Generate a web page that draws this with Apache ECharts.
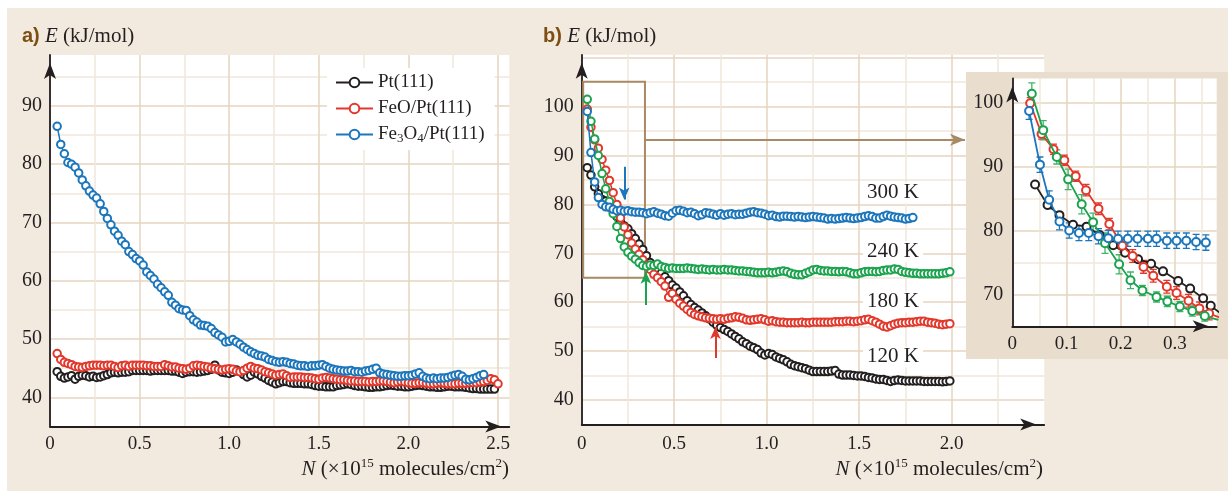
<!DOCTYPE html>
<html><head><meta charset="utf-8">
<script src="https://cdn.jsdelivr.net/npm/echarts@6/dist/echarts.min.js"></script>
<style>
html,body{margin:0;padding:0;background:#fff;overflow:hidden;}
#bg{position:absolute;left:7px;top:8px;width:1221px;height:483px;background:#f2eadf;}
#chart{position:absolute;left:0;top:0;width:1228px;height:491px;}
</style></head><body>
<div id="bg"></div><div id="chart"></div>
<script>
// ---------- Panel a data ----------
const nA = [0.04,0.06,0.08,0.10,0.12,0.14,0.16,0.18,0.20,0.22,
0.24,0.26,0.28,0.30,0.32,0.34,0.36,0.38,0.40,0.42,
0.44,0.46,0.48,0.50,0.52,0.54,0.56,0.58,0.60,0.62,
0.64,0.66,0.68,0.70,0.72,0.74,0.76,0.78,0.80,0.82,
0.84,0.86,0.88,0.90,0.92,0.94,0.96,0.98,1.00,1.02,
1.04,1.06,1.08,1.10,1.12,1.14,1.16,1.18,1.20,1.22,
1.24,1.26,1.28,1.30,1.32,1.34,1.36,1.38,1.40,1.42,
1.44,1.46,1.48,1.50,1.52,1.54,1.56,1.58,1.60,1.62,
1.64,1.66,1.68,1.70,1.72,1.74,1.76,1.78,1.80,1.82,
1.84,1.86,1.88,1.90,1.92,1.94,1.96,1.98,2.00,2.02,
2.04,2.06,2.08,2.10,2.12,2.14,2.16,2.18,2.20,2.22,
2.24,2.26,2.28,2.30,2.32,2.34,2.36,2.38,2.40,2.42,
2.44,2.46,2.48,2.50];
const ptA = [44.4,43.6,43.3,43.5,43.7,43.1,43.6,43.8,43.7,43.5,
43.6,43.4,43.5,43.7,43.9,44.2,44.3,44.2,44.3,44.3,
44.4,44.6,44.6,44.6,44.6,44.6,44.5,44.6,44.6,44.6,
44.6,44.6,44.5,44.5,44.3,44.1,44.3,44.4,44.4,44.3,
44.4,44.5,44.6,44.8,45.5,44.7,44.3,44.2,44.1,44.3,
44.7,44.4,43.9,43.5,43.8,44.3,44.0,43.6,43.3,42.9,
42.6,42.3,42.5,42.7,42.7,42.5,42.4,42.4,42.4,42.3,
42.3,42.2,42.0,41.9,41.9,41.8,41.8,41.8,42.0,42.1,
42.2,42.3,42.2,42.0,41.9,41.9,41.8,41.7,41.7,41.8,
41.8,41.9,42.0,42.1,42.0,41.9,41.9,41.8,41.8,41.9,
42.0,42.1,42.0,41.9,41.8,41.8,41.7,41.7,41.8,41.9,
41.9,41.8,41.8,41.8,41.7,41.6,41.5,41.5,41.4,41.4,
41.4,41.4,41.4];
const feoA = [47.5,46.5,46.0,45.8,45.6,45.3,45.2,45.1,45.3,45.4,
45.5,45.5,45.5,45.4,45.5,45.5,45.3,45.1,45.4,45.5,
45.3,45.5,45.5,45.5,45.5,45.4,45.4,45.3,45.3,45.3,
45.6,45.4,45.2,45.2,45.0,44.9,44.8,45.0,45.4,45.5,
45.4,45.3,45.2,45.0,44.9,44.8,44.7,44.8,44.9,44.8,
44.5,44.4,44.6,45.0,45.3,45.0,44.9,44.7,44.4,44.2,
44.0,43.8,43.9,44.0,43.7,43.4,43.5,43.5,43.5,43.4,
43.4,43.3,43.2,43.1,43.3,43.4,43.3,43.2,43.1,43.0,
43.0,42.9,42.8,42.8,42.7,42.7,42.7,42.6,42.7,42.7,
42.8,42.8,42.7,42.6,42.5,42.6,42.7,42.6,42.5,42.4,
42.4,42.5,42.5,42.4,42.3,42.3,42.4,42.5,42.4,42.3,
42.3,42.3,42.4,42.4,42.4,42.5,42.5,42.5,42.6,42.7,
42.9,43.2,43.0,42.3];
const fe3o4A = [86.5,83.4,81.8,80.3,80.0,79.5,78.5,77.3,76.3,75.4,
74.7,74.2,73.2,71.9,70.7,69.6,68.5,67.8,66.8,66.2,
65.0,64.5,63.8,63.4,62.7,61.5,60.9,60.3,59.4,58.8,
58.1,57.5,56.3,55.8,55.2,55.0,54.9,54.0,53.3,52.9,
52.4,52.3,52.2,51.8,51.1,50.7,50.3,49.5,49.6,49.9,
49.5,49.1,48.6,48.2,47.8,47.5,47.2,47.1,46.9,46.5,
46.3,46.1,46.0,46.1,46.0,45.8,45.7,45.5,45.4,45.4,
45.3,45.4,45.4,45.5,45.6,45.3,45.0,44.8,44.7,44.6,
44.5,44.5,44.6,44.4,44.4,44.3,44.5,44.6,44.8,45.0,
44.2,44.0,43.9,43.8,43.7,43.6,43.6,43.7,43.7,43.8,
44.0,44.2,43.6,43.3,43.2,43.3,43.2,43.3,43.3,43.4,
43.6,43.8,43.9,43.6,43.1,43.0,43.2,43.4,43.7,43.9];

// ---------- Panel b data ----------
const nB = [0.03,0.05,0.07,0.09,0.11,0.13,0.15,0.17,0.19,0.21,
0.23,0.25,0.27,0.29,0.31,0.33,0.35,0.37,0.39,0.41,
0.43,0.45,0.47,0.49,0.51,0.53,0.55,0.57,0.59,0.61,
0.63,0.65,0.67,0.69,0.71,0.73,0.75,0.77,0.79,0.81,
0.83,0.85,0.87,0.89,0.91,0.93,0.95,0.97,0.99,1.01,
1.03,1.05,1.07,1.09,1.11,1.13,1.15,1.17,1.19,1.21,
1.23,1.25,1.27,1.29,1.31,1.33,1.35,1.37,1.39,1.41,
1.43,1.45,1.47,1.49,1.51,1.53,1.55,1.57,1.59,1.61,
1.63,1.65,1.67,1.69,1.71,1.73,1.75,1.77,1.79,1.81,
1.83,1.85,1.87,1.89,1.91,1.93,1.95,1.97,1.99];
const k120 = [87.5,86.0,83.6,82.2,81.0,80.7,80.0,78.7,77.5,76.4,
75.6,75.0,74.0,73.0,71.9,70.8,69.5,68.1,67.4,66.7,
65.9,65.2,64.4,63.5,62.9,62.1,61.3,60.3,59.5,58.9,
58.4,57.8,57.2,56.6,55.9,55.3,54.8,54.4,54.0,53.5,
53.0,52.5,51.9,51.5,51.0,50.7,50.3,49.6,49.2,49.5,
49.3,48.8,48.5,48.2,47.8,47.3,47.0,46.8,46.6,46.4,
46.1,45.8,45.8,45.8,45.8,45.8,45.9,46.0,45.3,45.1,
45.1,45.1,45.0,44.9,44.9,44.8,44.6,44.5,44.3,44.2,
44.2,44.0,43.8,44.0,44.1,44.0,43.9,43.9,43.9,43.9,
43.9,43.8,43.8,43.8,43.8,43.8,43.7,43.8,43.9];
const k180 = [99.5,95.8,93.2,91.5,89.2,87.0,84.9,82.4,80.0,77.2,
75.4,73.8,72.1,70.9,69.8,68.7,67.6,66.7,65.7,65.0,
64.2,63.3,61.0,61.8,60.6,59.8,59.2,58.5,57.9,57.5,
57.2,57.0,56.8,56.7,56.6,56.5,56.6,56.5,56.7,56.8,
57.0,56.9,56.7,56.4,56.3,56.4,56.5,56.6,56.4,56.1,
56.2,56.0,55.9,55.9,55.8,55.8,55.8,55.8,55.9,55.8,
55.8,55.9,55.9,55.9,55.9,55.9,55.9,56.0,56.0,56.0,
56.1,56.1,56.0,56.1,56.2,56.4,56.5,56.2,55.9,55.5,
55.1,54.9,55.2,55.5,55.7,55.8,55.8,55.9,55.9,56.0,
56.1,56.1,55.9,55.8,55.7,55.5,55.4,55.5,55.6];
const k240 = [101.5,97.0,93.4,90.0,86.3,83.2,80.6,78.1,75.5,73.0,
71.3,70.2,69.4,68.8,68.1,67.5,67.3,67.6,67.5,67.8,
67.3,67.1,66.9,67.0,66.9,66.9,66.9,67.0,66.9,66.8,
66.7,66.8,66.7,66.6,66.7,66.6,66.6,66.7,66.6,66.6,
66.5,66.4,66.4,66.3,66.2,66.1,66.0,66.0,66.0,66.1,
66.0,66.1,66.3,66.4,66.2,65.9,65.7,65.6,65.6,65.9,
66.2,66.6,66.7,66.5,66.4,66.4,66.3,66.3,66.2,66.3,
66.2,66.0,65.8,65.8,66.0,66.2,66.3,66.3,66.2,66.3,
66.5,66.6,66.6,66.8,66.7,66.3,66.1,66.0,65.9,65.9,
65.8,65.8,65.8,65.8,65.8,65.8,65.9,66.0,66.2];
const k300 = [99.0,90.6,84.6,81.4,80.0,79.5,79.4,79.0,78.7,78.8,
78.6,78.7,78.5,78.4,78.4,78.3,78.1,78.3,78.5,78.2,
78.0,77.7,77.6,78.2,78.7,78.8,78.6,78.3,78.4,78.1,
77.7,77.9,78.3,78.2,78.0,77.8,78.1,77.8,78.0,78.1,
77.9,78.0,78.0,78.2,78.4,78.5,78.3,78.2,78.0,77.7,
77.8,77.5,77.4,77.6,77.6,77.5,77.4,77.5,77.4,77.3,
77.4,77.5,77.4,77.3,77.2,77.0,77.1,77.0,77.1,77.2,
77.3,77.2,77.1,77.2,77.3,77.5,77.7,77.5,77.2,77.2,
77.5,77.8,77.6,77.4,77.3,77.2,77.0,77.1,77.3];
const tempNames = ['120 K','180 K','240 K','300 K'];
const tempLabelAt = [[1.683,48.8],[1.683,60.05],[1.683,70.3],[1.683,82.35]];
// arrows: [x, yTail, yHead]
const arrow300 = [0.23, 87.7, 81.0];
const arrow240 = [0.347, 59.4, 66.2];
const arrow180 = [0.723, 48.6, 54.9];
const zoomBox = [[0.008,105.1],[0.342,65.0]];
const zoomArrow = [[0.342,93.2],[2.072,93.2]];

// ---------- Inset data ----------
const insN300 = [0.031,0.051,0.068,0.087,0.105,0.123,0.141,0.159,0.177,0.195,0.213,0.231,0.250,0.266,0.285,0.303,0.321,0.339,0.357];
const insE300 = [98.7,90.3,84.8,81.4,80.0,79.6,79.6,79.1,78.8,78.7,78.7,78.7,78.7,78.7,78.4,78.4,78.4,78.2,78.1];
const insErr300 = [1.3,1.2,1.4,1.3,1.2,1.2,1.2,1.2,1.2,1.2,1.2,1.2,1.2,1.2,1.2,1.2,1.2,1.2,1.2];
const insN180 = [0.033,0.054,0.076,0.096,0.117,0.136,0.159,0.179,0.203,0.222,0.242,0.260,0.285,0.303,0.325,0.345,0.363,0.385];
const insE180 = [99.9,95.1,92.7,91.0,88.5,86.3,83.4,81.0,77.6,76.0,74.3,72.9,71.2,70.2,69.0,67.8,67.0,66.3];
const insErr180 = [0.9,0.8,0.8,0.8,0.8,0.9,0.9,0.9,1.0,1.0,1.0,1.0,1.0,1.0,1.0,1.0,1.0];
const insN240 = [0.036,0.057,0.082,0.103,0.128,0.149,0.171,0.197,0.218,0.240,0.266,0.286,0.309,0.332,0.355,0.380];
const insE240 = [101.4,95.7,91.5,88.0,84.1,81.3,78.0,74.7,72.2,70.6,69.6,68.9,68.1,67.4,66.6,66.0];
const insErr240 = [1.7,1.5,1.1,1.6,1.5,1.4,1.6,1.5,1.3,0.8,0.8,0.8,0.8,0.8,0.8];
const insN120 = [0.042,0.065,0.087,0.112,0.137,0.161,0.186,0.208,0.232,0.256,0.278,0.306,0.328,0.352,0.366,0.388];
const insE120 = [87.2,84.0,82.4,80.9,80.6,79.3,77.7,76.5,75.5,74.8,73.6,72.1,70.9,69.4,68.2,66.8];

// ---------- tick labels ----------
const xTicksA = [0,0.5,1.0,1.5,2.0,2.5];
const xTicksB = [0,0.5,1.0,1.5,2.0];
const xTicksI = [0,0.1,0.2,0.3];
const yTicksA = [40,50,60,70,80,90];
const yTicksB = [40,50,60,70,80,90,100];
const yTicksI = [70,80,90,100];

const SERIF = "'Liberation Serif','Times New Roman',serif";
const SANS = "'Liberation Sans','Open Sans',sans-serif";
const TXT = '#231f20';
const MAJ = '#e6d5bf', MIN = '#f1e7da';
const C_BLACK = '#231f20', C_RED = '#e2382b', C_BLUE = '#1c76bc', C_GREEN = '#1ba34e';
const BROWN = '#a88b64';

function zip(xs, ys) { return ys.map((y, i) => [xs[i], y]); }
function zip3(xs, ys, es) { return es.map((e, i) => [xs[i], ys[i], e]); }
function tickFmt(ticks, digits) {
  return function (v) {
    for (const t of ticks) if (Math.abs(v - t) < 1e-6) return t === 0 ? '0' : t.toFixed(digits);
    return '';
  };
}
function axisCfg(dim, gi, min, max, step, ticks, digits, margin, colors, z) {
  return {
    type: 'value', gridIndex: gi, min: min, max: max, interval: step,
    position: dim === 'x' ? 'bottom' : 'left', z: z || 0,
    axisLine: { show: true, onZero: false, lineStyle: { color: TXT, width: 1.8 },
      symbol: ['none', 'arrow'], symbolSize: [9, 16], symbolOffset: [0, -8] },
    axisTick: { show: false },
    axisLabel: { margin: margin, color: TXT, fontFamily: SERIF, fontSize: dim === 'x' ? 19 : 20, formatter: tickFmt(ticks, digits) },
    splitLine: { show: true, showMaxLine: false, lineStyle: { color: colors, width: 1.5 } }
  };
}
function lineSeries(name, gi, data, color, size, z, extra) {
  return Object.assign({
    type: 'line', name: name, xAxisIndex: gi, yAxisIndex: gi, data: data,
    symbol: 'emptyCircle', symbolSize: size, showSymbol: true,
    lineStyle: { color: color, width: 1.5 },
    itemStyle: { color: color, borderColor: color, borderWidth: 1.5 },
    emphasis: { disabled: true }, z: z, clip: true, animation: false
  }, extra || {});
}
function tempLabel(i) {
  return { silent: true, symbol: 'rect', symbolSize: 1, itemStyle: { color: 'rgba(0,0,0,0)' },
    label: { show: true, position: 'inside', formatter: '{b}', color: TXT, fontFamily: SERIF, fontSize: 21,
      backgroundColor: '#fff', padding: [0, 4] },
    data: [{ name: tempNames[i], coord: tempLabelAt[i] }] };
}
function arrowLine(a, color) {
  return { silent: true, symbol: ['none', 'arrow'], symbolSize: [8, 12], label: { show: false },
    lineStyle: { color: color, width: 2, type: 'solid' }, emphasis: { disabled: true },
    data: [[{ coord: [a[0], a[1]] }, { coord: [a[0], a[2]] }]] };
}
function errRender(color) {
  return function (params, api) {
    const x = api.value(0), y = api.value(1), e = api.value(2);
    const p1 = api.coord([x, y + e]), p2 = api.coord([x, y - e]);
    const w = 3.5;
    const st = { stroke: color, lineWidth: 1.3 };
    return { type: 'group', children: [
      { type: 'line', shape: { x1: p1[0], y1: p1[1], x2: p2[0], y2: p2[1] }, style: st },
      { type: 'line', shape: { x1: p1[0] - w, y1: p1[1], x2: p1[0] + w, y2: p1[1] }, style: st },
      { type: 'line', shape: { x1: p2[0] - w, y1: p2[1], x2: p2[0] + w, y2: p2[1] }, style: st }
    ] };
  };
}
function errSeries(xs, ys, es, color) {
  return { type: 'custom', xAxisIndex: 2, yAxisIndex: 2, data: zip3(xs, ys, es),
    encode: { x: 0, y: 1 }, renderItem: errRender(color), z: 3, clip: true, silent: true, animation: false };
}
function txt(x, y, text, rich, align) {
  return { type: 'text', x: x, y: y, silent: true, z: 5,
    style: { text: text, rich: rich, fill: TXT, fontFamily: SERIF, fontSize: 21,
      align: align, textAlign: align, verticalAlign: 'middle', textVerticalAlign: 'middle' } };
}
const headRich = {
  lab: { fontFamily: SANS, fontWeight: 'bold', fontSize: 20, fill: '#7d4e12', color: '#7d4e12' },
  e: { fontFamily: SERIF, fontStyle: 'italic', fontSize: 21, fill: TXT, color: TXT },
  u: { fontFamily: SERIF, fontSize: 21, fill: TXT, color: TXT }
};
const xTitleRich = {
  i: { fontFamily: SERIF, fontStyle: 'italic', fontSize: 21, fill: TXT, color: TXT },
  u: { fontFamily: SERIF, fontSize: 21, fill: TXT, color: TXT },
  sup: { fontFamily: SERIF, fontSize: 13, fill: TXT, color: TXT, padding: [0, 0, 10, 0] }
};
const xTitle = '{i|N}{u| (×10}{sup|15}{u| molecules/cm}{sup|2}{u|)}';

const chart = echarts.init(document.getElementById('chart'), null, { renderer: 'canvas' });
chart.setOption({
  animation: false,
  grid: [
    { left: 50, top: 55, width: 459.3, height: 371.4, show: true, backgroundColor: '#fff', borderWidth: 0, z: 0 },
    { left: 581.7, top: 54.8, width: 462.5, height: 369.6, show: true, backgroundColor: '#fff', borderWidth: 0, z: 0 },
    { left: 1012.3, top: 78.4, width: 204.4, height: 247.9, show: true, backgroundColor: '#fff', borderWidth: 0, z: 2 }
  ],
  xAxis: [
    axisCfg('x', 0, 0, 2.563, 0.25, xTicksA, 1, 8, [MAJ, MIN]),
    axisCfg('x', 1, 0, 2.5, 0.25, xTicksB, 1, 10, [MAJ, MIN]),
    axisCfg('x', 2, 0, 0.377, 0.05, xTicksI, 1, 8, [MAJ, MIN], 2)
  ],
  yAxis: [
    axisCfg('y', 0, 35, 98.75, 5, yTicksA, 0, 8, [MIN, MAJ]),
    axisCfg('y', 1, 35, 110.6, 5, yTicksB, 0, 8, [MIN, MAJ]),
    axisCfg('y', 2, 65, 103.8, 5, yTicksI, 0, 9, [MIN, MAJ], 2)
  ],
  legend: {
    data: ['Pt(111)', 'FeO/Pt(111)', 'Fe3O4/Pt(111)'], orient: 'vertical', left: 327, top: 68,
    padding: [5, 10, 5, 8], backgroundColor: '#fff', itemWidth: 37, itemHeight: 12, itemGap: 7,
    selectedMode: false,
    textStyle: { fontFamily: SERIF, fontSize: 19, color: TXT,
      rich: { s: { fontFamily: SERIF, fontSize: 13, color: TXT, padding: [8, 0, 0, 0] } } },
    formatter: function (n) { return n === 'Fe3O4/Pt(111)' ? 'Fe{s|3}O{s|4}/Pt(111)' : n; }
  },
  graphic: { elements: [
    { type: 'rect', z: 1, silent: true, shape: { x: 966, y: 72, width: 262, height: 287 }, style: { fill: '#e9dece' } },
    txt(22, 36, '{lab|a)} {e|E} {u|(kJ/mol)}', headRich, 'left'),
    txt(543, 36, '{lab|b)} {e|E} {u|(kJ/mol)}', headRich, 'left'),
    txt(509, 469, xTitle, xTitleRich, 'right'),
    txt(1043, 469, xTitle, xTitleRich, 'right')
  ] },
  series: [
    lineSeries('Pt(111)', 0, zip(nA, ptA), C_BLACK, 7.5, 2),
    lineSeries('FeO/Pt(111)', 0, zip(nA, feoA), C_RED, 7.5, 3),
    lineSeries('Fe3O4/Pt(111)', 0, zip(nA, fe3o4A), C_BLUE, 7.5, 4),

    lineSeries('120 K', 1, zip(nB, k120), C_BLACK, 7.5, 2, {
      markPoint: tempLabel(0),
      markArea: { silent: true, itemStyle: { color: 'rgba(0,0,0,0)', borderColor: BROWN, borderWidth: 2 },
        label: { show: false }, data: [[{ coord: zoomBox[0] }, { coord: zoomBox[1] }]] },
      markLine: { silent: true, symbol: ['none', 'arrow'], symbolSize: [9, 15], label: { show: false },
        lineStyle: { color: BROWN, width: 2, type: 'solid' }, emphasis: { disabled: true },
        data: [[{ coord: zoomArrow[0] }, { coord: zoomArrow[1] }]] }
    }),
    lineSeries('180 K', 1, zip(nB, k180), C_RED, 7.5, 3, { markPoint: tempLabel(1), markLine: arrowLine(arrow180, C_RED) }),
    lineSeries('240 K', 1, zip(nB, k240), C_GREEN, 7.5, 4, { markPoint: tempLabel(2), markLine: arrowLine(arrow240, C_GREEN) }),
    lineSeries('300 K', 1, zip(nB, k300), C_BLUE, 7.5, 5, { markPoint: tempLabel(3), markLine: arrowLine(arrow300, C_BLUE) }),

    errSeries(insN180, insE180, insErr180, C_RED),
    errSeries(insN240, insE240, insErr240, '#3fb468'),
    errSeries(insN300, insE300, insErr300, C_BLUE),
    lineSeries('i120', 2, zip(insN120, insE120), C_BLACK, 8, 4, { lineStyle: { color: C_BLACK, width: 1.8 } }),
    lineSeries('i180', 2, zip(insN180, insE180), C_RED, 8, 5, { lineStyle: { color: C_RED, width: 1.8 } }),
    lineSeries('i240', 2, zip(insN240, insE240), C_GREEN, 8, 6, { lineStyle: { color: C_GREEN, width: 1.8 } }),
    lineSeries('i300', 2, zip(insN300, insE300), C_BLUE, 8, 7, { lineStyle: { color: C_BLUE, width: 1.8 } })
  ]
});
</script></body></html>
